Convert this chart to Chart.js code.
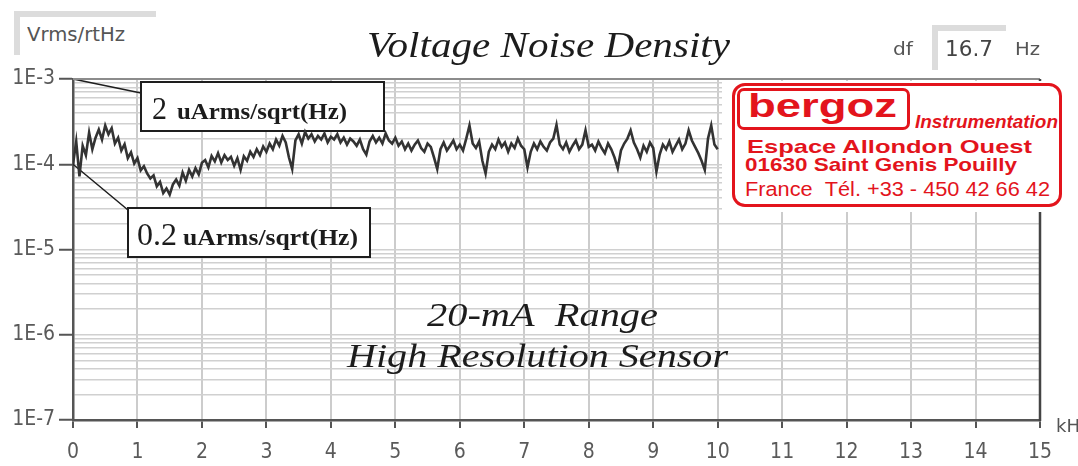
<!DOCTYPE html>
<html>
<head>
<meta charset="utf-8">
<script src="https://cdn.jsdelivr.net/npm/chart.js@4.4.1/dist/chart.umd.min.js"></script>
<style>
body { margin: 0; background: #fff; overflow: hidden; }
#wrap { position: relative; width: 1078px; height: 466px; overflow: hidden; background: #fff; }
canvas { position: absolute; left: 0; top: 0; }
.t { position: absolute; white-space: nowrap; line-height: 1; transform-origin: 0 0; }
.sans { font-family: 'DejaVu Sans', sans-serif; color: #555; }
.serif { font-family: 'Liberation Serif', serif; color: #1c1c1c; }
.ital { font-style: italic; }
.ind { position: absolute; box-sizing: border-box; background: #fff;
       border-top: 6px solid #dcdcdc; border-left: 6px solid #dcdcdc; }
.stamp { position: absolute; background: #fff; }
.red { font-family: 'Liberation Sans', Arial, sans-serif; color: #e3141c; }
.rbox { position: absolute; box-sizing: border-box; border: 3px solid #e3141c; }
</style>
</head>
<body>
<div id="wrap">
<canvas id="chart_noise" width="1078" height="466"></canvas>

<!-- indicator boxes at the top -->
<div class="ind" style="left:14px;top:11px;width:142px;height:44px"></div>
<div class="t sans" data-w="98" style="left:27px;top:25px;font-size:19px">Vrms/rtHz</div>
<div class="t serif ital" data-w="363" style="left:367px;top:27px;font-size:36px">Voltage Noise Density</div>
<div class="t sans" data-w="20" style="left:893px;top:41px;font-size:17px">df</div>
<div class="ind" style="left:932px;top:25px;width:74px;height:45px"></div>
<div class="t sans" data-w="48" style="left:945px;top:38px;font-size:22px;color:#444">16.7</div>
<div class="t sans" data-w="25" style="left:1015px;top:40px;font-size:18px">Hz</div>
<div class="t sans" style="left:1056px;top:417px;font-size:18px">kHz</div>

<!-- annotation texts (boxes + leader lines are drawn on the canvas) -->
<div class="t serif" data-w="15" style="left:152px;top:92px;font-size:32px">2</div>
<div class="t serif" data-w="170" style="left:177px;top:99px;font-size:24px;font-weight:bold">uArms/sqrt(Hz)</div>
<div class="t serif" data-w="40" style="left:137px;top:218px;font-size:32px">0.2</div>
<div class="t serif" data-w="175" style="left:183px;top:225px;font-size:24px;font-weight:bold">uArms/sqrt(Hz)</div>

<div class="t serif ital" data-w="231" style="left:427px;top:299px;font-size:33px">20-mA&nbsp;&nbsp;Range</div>
<div class="t serif ital" data-w="381" style="left:347px;top:340px;font-size:33px">High Resolution Sensor</div>

<!-- stamp -->
<div class="stamp" style="left:722px;top:81px;width:343px;height:131px"></div>
<div class="rbox" style="left:732px;top:83px;width:330px;height:124px;border-radius:13px"></div>
<div class="rbox" style="left:737px;top:88px;width:173px;height:42px;border-radius:7px"></div>
<div class="t red" data-w="149" style="left:748px;top:88px;font-size:34px;font-weight:bold">bergoz</div>
<div class="t red" data-w="143" style="left:915px;top:112px;font-size:19px;font-weight:bold;font-style:italic">Instrumentation</div>
<div class="t red" data-w="285" style="left:747px;top:137px;font-size:19px;font-weight:bold">Espace Allondon Ouest</div>
<div class="t red" data-w="272" style="left:745px;top:155px;font-size:19px;font-weight:bold">01630 Saint Genis Pouilly</div>
<div class="t red" data-w="305" style="left:745px;top:179px;font-size:20px">France&nbsp;&nbsp;Tél. +33 - 450 42 66 42</div>
</div>

<script>
// y axis: decades with labels, minor lines at 2..9 of each decade
var yDecades = [1e-7, 1e-6, 1e-5, 1e-4, 1e-3];
var yDecadeLabels = ['1E-7', '1E-6', '1E-5', '1E-4', '1E-3'];
var yMinorSteps = [2, 3, 4, 5, 6, 7, 8, 9];

// spectrum sample spacing (kHz) used for the trace below
var freqStepKHz = 0.05;

// voltage noise density, uVrms/rtHz (0 .. 10 kHz)
var noiseUV = [
	100, 185, 72, 165, 128, 235, 150, 205, 255, 195, 285, 225, 265, 175, 205, 145, 172, 118, 138, 102, 118,
	85, 95, 78, 68, 74, 55, 62, 46, 52, 44, 58, 66, 56, 80, 64, 86, 72, 90, 76, 104,
	112, 92, 125, 108, 135, 105, 128, 112, 122, 96, 118, 86, 124, 110, 140, 122, 150, 128, 162, 140,
	175, 150, 195, 165, 215, 180, 120, 88, 190, 225, 175, 240, 200, 225, 185, 215, 195, 230, 180, 210,
	195, 225, 180, 205, 170, 200, 185, 165, 195, 150, 130, 185, 215, 180, 205, 175, 230, 190, 175, 205,
	165, 185, 150, 175, 145, 170, 190, 155, 140, 175, 160, 120, 88, 150, 180, 145, 165, 190, 150, 170,
	145, 200, 285, 175, 155, 185, 110, 78, 140, 170, 150, 195, 160, 180, 140, 175, 155, 200, 165, 150,
	92, 140, 175, 150, 185, 160, 145, 180, 200, 290, 170, 150, 180, 140, 165, 190, 150, 170, 250, 160,
	170, 145, 185, 155, 135, 175, 150, 120, 90, 145, 175, 200, 250, 180, 150, 120, 165, 140, 180, 155,
	82, 130, 170, 150, 185, 140, 165, 195, 150, 175, 250, 190, 160, 135, 110, 86, 200, 285, 170, 150
];

var yTickValues = [];
yDecades.forEach(function(d, i) {
	yTickValues.push(d);
	if (i < yDecades.length - 1) {
		yMinorSteps.forEach(function(m) { yTickValues.push(d * m); });
	}
});

var points = noiseUV.map(function(v, i) {
	return { x: +(i * freqStepKHz).toFixed(2), y: v * 1e-6 };
});

var tickFont = { family: "'DejaVu Sans Condensed', 'DejaVu Sans', sans-serif", size: 21 };

// boxes, leader lines and the plot frame
var frameAndNotes = {
	id: 'frameAndNotes',
	beforeDatasetsDraw: function(chart) {
		var ctx = chart.ctx, xs = chart.scales.x, ys = chart.scales.y;
		var x0 = xs.getPixelForValue(0);
		ctx.save();
		ctx.strokeStyle = '#1e1e1e';
		ctx.lineWidth = 1.5;
		ctx.beginPath();
		ctx.moveTo(x0, ys.getPixelForValue(1e-3));
		ctx.lineTo(141, 93);
		ctx.moveTo(x0, ys.getPixelForValue(1e-4));
		ctx.lineTo(128, 210);
		ctx.stroke();
		[[141, 82, 243, 49], [128, 208, 242, 49]].forEach(function(b) {
			ctx.fillStyle = '#fff';
			ctx.fillRect(b[0], b[1], b[2], b[3]);
			ctx.lineWidth = 2;
			ctx.strokeRect(b[0], b[1], b[2], b[3]);
		});
		ctx.restore();
	},
	afterDraw: function(chart) {
		var a = chart.chartArea, ctx = chart.ctx;
		ctx.save();
		ctx.strokeStyle = '#8c8c8c';
		ctx.lineWidth = 2;
		ctx.beginPath();
		ctx.moveTo(a.left, a.top);
		ctx.lineTo(a.right, a.top);
		ctx.stroke();
		ctx.strokeStyle = '#444';
		ctx.lineWidth = 2.5;
		ctx.beginPath();
		ctx.moveTo(a.right, a.top);
		ctx.lineTo(a.right, a.bottom + 1);
		ctx.stroke();
		ctx.restore();
	}
};

var ctx = document.getElementById('chart_noise').getContext('2d');
var chart = new Chart(ctx, {
	type: 'line',
	data: {
		datasets: [{
			label: 'Voltage Noise Density',
			data: points,
			borderColor: '#333333',
			backgroundColor: '#333333',
			borderWidth: 2.6,
			pointRadius: 0,
			tension: 0,
			fill: false
		}]
	},
	options: {
		responsive: false,
		animation: false,
		devicePixelRatio: 1,
		layout: { padding: { top: 79, right: 38, left: 0, bottom: 0 } },
		plugins: {
			legend: { display: false },
			tooltip: { enabled: false },
			title: { display: false }
		},
		scales: {
			x: {
				type: 'linear',
				min: 0,
				max: 15,
				afterFit: function(s) { s.height = 46; },
				ticks: { stepSize: 1, autoSkip: false, maxRotation: 0, color: '#5a5a5a', font: tickFont, padding: 12 },
				grid: { color: '#cccccc', lineWidth: 2, tickColor: '#555', tickLength: 8, tickWidth: 2 },
				border: { color: '#555', width: 2.5 }
			},
			y: {
				type: 'logarithmic',
				min: 1e-7,
				max: 1e-3,
				afterFit: function(s) { s.width = 73; },
				afterBuildTicks: function(s) {
					s.ticks = yTickValues.map(function(v) {
						return { value: v, major: yDecades.indexOf(v) >= 0 };
					});
				},
				ticks: {
					autoSkip: false,
					color: '#5a5a5a',
					font: tickFont,
					padding: 4,
					callback: function(value) {
						var i = yDecades.indexOf(value);
						return i >= 0 ? yDecadeLabels[i] : '';
					}
				},
				grid: {
					color: '#d0d0d0',
					lineWidth: 1.5,
					tickLength: 14,
					tickWidth: 2,
					tickColor: function(c) { return c.tick && c.tick.major ? '#555' : 'rgba(0,0,0,0)'; }
				},
				border: { color: '#555', width: 2.5 }
			}
		}
	},
	plugins: [frameAndNotes]
});

// squeeze/stretch overlay texts to the widths seen in the picture
document.querySelectorAll('[data-w]').forEach(function(el) {
	var w = el.getBoundingClientRect().width;
	el.style.transform = 'scaleX(' + (parseFloat(el.getAttribute('data-w')) / w) + ')';
});
</script>
</body>
</html>
